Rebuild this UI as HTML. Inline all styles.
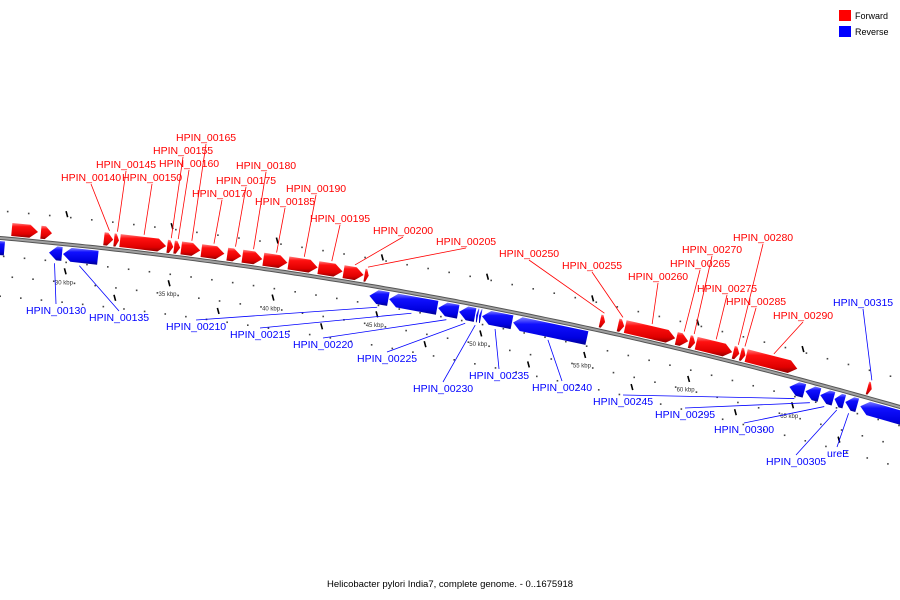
<!DOCTYPE html>
<html><head><meta charset="utf-8">
<style>
html,body{margin:0;padding:0;background:#fff;width:900px;height:600px;overflow:hidden}
svg{display:block;font-family:"Liberation Sans","DejaVu Sans",sans-serif}
</style></head>
<body>
<svg id="map" width="900" height="600" viewBox="0 0 900 600">
<defs>
<linearGradient id="gf" x1="0" y1="0" x2="0" y2="1"><stop offset="0" stop-color="#ff8080"/><stop offset="0.25" stop-color="#ff1010"/><stop offset="0.75" stop-color="#e00000"/><stop offset="1" stop-color="#900000"/></linearGradient>
<linearGradient id="gr" x1="0" y1="0" x2="0" y2="1"><stop offset="0" stop-color="#8080ff"/><stop offset="0.25" stop-color="#1010ff"/><stop offset="0.75" stop-color="#0000e0"/><stop offset="1" stop-color="#000090"/></linearGradient>
</defs>
<g id="backbone"></g>
<g id="ticks"></g>
<g id="genes"></g>
<g id="labels"></g>
<g>
<rect x="839" y="10" width="12" height="11" fill="#ff0000"/>
<text x="855" y="19" font-size="9" fill="#000">Forward</text>
<rect x="839" y="26" width="12" height="11" fill="#0000ff"/>
<text x="855" y="35" font-size="9" fill="#000">Reverse</text>
</g>
<text x="450" y="587" font-size="9.5" text-anchor="middle" fill="#000">Helicobacter pylori India7, complete genome. - 0..1675918</text>
</svg>
<script>
// gene data (kbp)
const fwdStart = [27.27,28.66,31.67,32.15,32.44,34.69,35.02,35.36,36.32,37.56,38.28,39.28,40.48,41.91,43.11,44.11,55.36,56.22,56.56,59.0,59.62,59.95,61.72,62.06,62.34,68.13];
const fwdEnd   = [28.52,29.19,32.11,32.39,34.64,34.98,35.31,36.27,37.42,38.23,39.23,40.43,41.87,43.06,44.07,44.31,55.6,56.51,58.95,59.57,59.9,61.67,62.01,62.3,64.78,68.33];
const fwdNames = ["","","HPIN_00140","HPIN_00145","HPIN_00150","HPIN_00155","HPIN_00160","HPIN_00165","HPIN_00170","HPIN_00175","HPIN_00180","HPIN_00185","HPIN_00190","HPIN_00195","HPIN_00200","HPIN_00205","HPIN_00250","HPIN_00255","HPIN_00260","HPIN_00265","HPIN_00270","HPIN_00275","HPIN_00280","HPIN_00285","HPIN_00290","HPIN_00315"];
const revStart = [26.0,29.14,29.81,44.5,45.45,47.8,48.8,49.62,49.76,49.9,51.39,64.64,65.41,66.12,66.8,67.32,68.04];
const revEnd   = [27.0,29.76,31.48,45.41,47.75,48.76,49.57,49.71,49.86,51.34,54.93,65.36,66.08,66.75,67.27,67.89,70.5];
const revNames = ["","HPIN_00130","HPIN_00135","HPIN_00210","HPIN_00215","HPIN_00220","HPIN_00225","HPIN_00230","","HPIN_00235","HPIN_00240","HPIN_00245","HPIN_00295","HPIN_00300","HPIN_00305","ureE",""];
const tickKbp = [30,35,40,45,50,55,60,65];
const tickLabels = ["30 kbp","35 kbp","40 kbp","45 kbp","50 kbp","55 kbp","60 kbp","65 kbp"];
</script>
<script>
const fwdLabelPos = {"HPIN_00140":[61,181],"HPIN_00145":[96,168],"HPIN_00150":[122,181],"HPIN_00155":[153,154],"HPIN_00160":[159,167],"HPIN_00165":[176,141],"HPIN_00170":[192,197],"HPIN_00175":[216,184],"HPIN_00180":[236,169],"HPIN_00185":[255,205],"HPIN_00190":[286,192],"HPIN_00195":[310,222],"HPIN_00200":[373,234],"HPIN_00205":[436,245],"HPIN_00250":[499,257],"HPIN_00255":[562,269],"HPIN_00260":[628,280],"HPIN_00265":[670,267],"HPIN_00270":[682,253],"HPIN_00275":[697,292],"HPIN_00280":[733,241],"HPIN_00285":[726,305],"HPIN_00290":[773,319],"HPIN_00315":[833,306]};
const revLabelPos = {"HPIN_00130":[26,314],"HPIN_00135":[89,321],"HPIN_00210":[166,330],"HPIN_00215":[230,338],"HPIN_00220":[293,348],"HPIN_00225":[357,362],"HPIN_00230":[413,392],"HPIN_00235":[469,379],"HPIN_00240":[532,391],"HPIN_00245":[593,405],"HPIN_00295":[655,418],"HPIN_00300":[714,433],"HPIN_00305":[766,465],"ureE":[827,457]};
const NS="http://www.w3.org/2000/svg";
function kx(k){return 68+(k-30)*20.9;}
function cy(x){return 238+0.0878*x+1.111e-4*x*x;}
function nrm(x){const d=0.0878+2.222e-4*x;const l=Math.sqrt(1+d*d);return [d/l,-1/l];}
function pt(k,off){const x=kx(k);const n=nrm(x);return [x+n[0]*off,cy(x)+n[1]*off];}
function mk(tag,attrs,parent){const e=document.createElementNS(NS,tag);for(const a in attrs)e.setAttribute(a,attrs[a]);parent.appendChild(e);return e;}
const bb=document.getElementById('backbone');
let pts=[];for(let x=-5;x<=905;x+=5)pts.push(x+','+cy(x).toFixed(1));
const b1=mk('polyline',{points:pts.join(' '),fill:'none',stroke:'#555','stroke-width':4},bb);


const b2=mk('polyline',{points:pts.join(' '),fill:'none',stroke:'#a0a0a0','stroke-width':2},bb);


const tg=document.getElementById('ticks');
for(let k=26;k<=72;k++){
  [[27,0],[-18,0],[-38,0.5],[-58,0]].forEach(function(q){const p=pt(k+q[1],q[0]);const d=mk('rect',{x:p[0]-0.8,y:p[1]-0.8,width:1.6,height:1.6,fill:'#444'},tg);
  
  });
}
tickKbp.forEach(function(k,i){
  [[30,k-0.2],[-27,k],[-48,k+2.5]].forEach(function(q){const p=pt(q[1],q[0]);const t=mk('line',{x1:p[0]-0.8,y1:p[1]-3,x2:p[0]+0.8,y2:p[1]+3,stroke:'#000','stroke-width':1.6},tg);
  
  });
  const p=pt(k,-40);const tx=mk('text',{x:p[0],y:p[1],'font-size':6,'text-anchor':'middle',fill:'#333'},tg);
  tx.textContent=tickLabels[i];
  
  
});
const gg=document.getElementById('genes'),lg=document.getElementById('labels');
function gene(s,e,dir,inner,outer,fill){
  const h=Math.min(8,(kx(e)-kx(s))*0.6);
  const ks=s,ke=e;const kh=(dir>0)?ke-h/20.9:ks+h/20.9;
  const mid=(inner+outer)/2;let P=[];
  if(dir>0){P=[pt(ks,inner),pt(kh,inner),pt(ke,mid),pt(kh,outer),pt(ks,outer)];}
  else{P=[pt(ks,mid),pt(kh,inner),pt(ke,inner),pt(ke,outer),pt(kh,outer)];}
  return mk('polygon',{points:P.map(p=>p[0].toFixed(1)+','+p[1].toFixed(1)).join(' '),fill:fill,stroke:'none'},gg);
}
fwdStart.forEach(function(s,i){
  const g=gene(s,fwdEnd[i],1,3,16,'url(#gf)');
  
  
  const nm=fwdNames[i];if(!nm||!fwdLabelPos[nm])return;
  const lp=fwdLabelPos[nm];const col=nm==="HPIN_00315"?'#0000ff':'#ff0000';
  const gp=pt((s+fwdEnd[i])/2,18);
  const ln=mk('line',{x1:lp[0]+30,y1:lp[1]+3,x2:gp[0],y2:gp[1],stroke:col,'stroke-width':0.8},lg);
  
  
  const t=mk('text',{x:lp[0],y:lp[1],'font-size':10.5,fill:col},lg);t.textContent=nm;
  
  
});
revStart.forEach(function(s,i){
  const g=gene(s,revEnd[i],-1,-3,-17,'url(#gr)');
  
  
  const nm=revNames[i];if(!nm||!revLabelPos[nm])return;
  const lp=revLabelPos[nm];
  const gp=pt((s+revEnd[i])/2,-20);
  const ln=mk('line',{x1:lp[0]+(nm==="ureE"?10:30),y1:lp[1]-10,x2:gp[0],y2:gp[1],stroke:'#0000ff','stroke-width':0.8},lg);
  
  
  const t=mk('text',{x:lp[0],y:lp[1],'font-size':10.5,fill:'#0000ff'},lg);t.textContent=nm;
  
  
});
</script>
</body></html>
